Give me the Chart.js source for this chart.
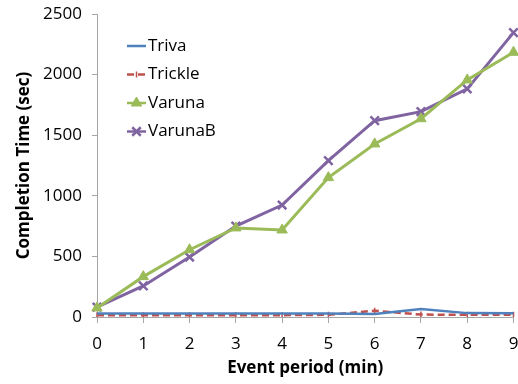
<!DOCTYPE html>
<html>
<head>
<meta charset="utf-8">
<script src="https://cdn.jsdelivr.net/npm/chart.js@4"></script>
<style>
  html, body { margin:0; padding:0; background:#fff; overflow:hidden; }
  #c { display:block; }
</style>
</head>
<body>
<canvas id="c" width="522" height="384"></canvas>
<script>
const periods = ["0","1","2","3","4","5","6","7","8","9"];
const triva   = [28, 28, 28, 28, 28, 28, 24, 65, 32, 30];
const trickle = [15, 15, 15, 15, 15, 18, 52, 20, 18, 18];
const varuna  = [75, 333, 555, 735, 718, 1150, 1428, 1636, 1956, 2184];
const varunaB = [82, 256, 495, 750, 924, 1290, 1620, 1694, 1882, 2346];
const yTicks  = [0, 500, 1000, 1500, 2000, 2500];

const FONT = "'Open Sans', sans-serif";
const AXIS = "#a6a6a6";
const TXT = "#000";

// legend drawn inside the plot, top-left
const insideLegend = {
  id: "insideLegend",
  afterDraw(chart){
    const ctx = chart.ctx;
    const x0 = 127, y0 = 46, step = 28.5;
    ctx.save();
    ctx.font = "17px " + FONT;
    ctx.textBaseline = "middle";
    chart.data.datasets.forEach((ds, i)=>{
      const y = y0 + i * step;
      ctx.strokeStyle = ds.borderColor;
      ctx.lineWidth = 2.5;
      ctx.setLineDash(ds.borderDash || []);
      ctx.beginPath();
      ctx.moveTo(x0, y);
      ctx.lineTo(x0 + 19, y);
      ctx.stroke();
      ctx.setLineDash([]);
      if (ds.pointRadius > 0){
        ctx.fillStyle = ds.backgroundColor;
        ctx.strokeStyle = ds.borderColor;
        ctx.lineWidth = ds.pointBorderWidth || 2;
        Chart.helpers.drawPoint(ctx, {
          pointStyle: ds.pointStyle,
          radius: ds.pointRadius,
          borderWidth: ds.pointBorderWidth || 2,
          rotation: ds.pointRotation || 0
        }, x0 + 9.5, y);
      }
      ctx.fillStyle = TXT;
      ctx.fillText(ds.label, x0 + 21, y);
    });
    ctx.restore();
  }
};

new Chart(document.getElementById("c"), {
  type: "line",
  data: {
    labels: periods,
    datasets: [
      { label: "Triva", data: triva, borderColor: "#4f81bd", backgroundColor: "#4f81bd",
        borderWidth: 2.5, pointRadius: 0 },
      { label: "Trickle", data: trickle, borderColor: "#c0504d", backgroundColor: "#c0504d",
        borderWidth: 2.5, borderDash: [7, 4], pointStyle: "line", pointRotation: 90, pointRadius: 3, pointBorderWidth: 1.5 },
      { label: "Varuna", data: varuna, borderColor: "#9bbb59", backgroundColor: "#9bbb59",
        borderWidth: 3, pointStyle: "triangle", pointRadius: 6, pointBorderWidth: 1 },
      { label: "VarunaB", data: varunaB, borderColor: "#8064a2", backgroundColor: "#8064a2",
        borderWidth: 3, pointStyle: "crossRot", pointRadius: 6, pointBorderWidth: 2.5 }
    ]
  },
  options: {
    animation: false,
    responsive: false,
    layout: { padding: { top: 14, right: 0, left: 0, bottom: 0 } },
    plugins: { legend: { display: false }, tooltip: { enabled: false } },
    elements: { line: { tension: 0 } },
    scales: {
      x: {
        offset: false,
        grid: { drawOnChartArea: false, color: AXIS, tickLength: 6, tickWidth: 1 },
        border: { color: AXIS, width: 1 },
        ticks: { color: TXT, font: { family: FONT, size: 17 }, padding: 11, maxRotation: 0 },
        title: { display: true, text: "Event period (min)", color: TXT,
                 font: { family: FONT, size: 17, weight: "bold" }, padding: { top: 0, bottom: 6 } },
        afterFit(s){ s.height = 67; s.paddingRight = 0; s.paddingLeft = 0; }
      },
      y: {
        min: 0, max: 2500,
        afterBuildTicks(s){ s.ticks = yTicks.map(v=>({ value: v })); },
        grid: { drawOnChartArea: false, color: AXIS, tickLength: 5, tickWidth: 1 },
        border: { color: AXIS, width: 1 },
        ticks: { color: TXT, font: { family: FONT, size: 17 }, padding: 10,
                 callback: v => String(v) },
        title: { display: true, text: "Completion Time (sec)", color: TXT,
                 font: { family: FONT, size: 17, weight: "bold" }, padding: { top: 14, bottom: 0 } },
        afterFit(s){ s.width = 97; s.paddingTop = 0; s.paddingBottom = 0; }
      }
    }
  },
  plugins: [insideLegend]
});
</script>
</body>
</html>
